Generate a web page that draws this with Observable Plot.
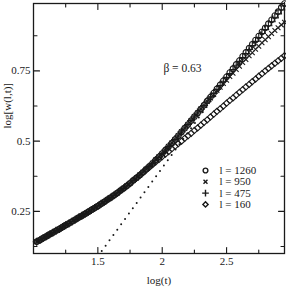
<!DOCTYPE html>
<html>
<head>
<meta charset="utf-8">
<script src="https://cdn.jsdelivr.net/npm/d3@7"></script>
<script src="https://cdn.jsdelivr.net/npm/@observablehq/plot@0.6"></script>
<style>
  html, body { margin: 0; padding: 0; background: #fff; }
  svg text { font-family: "Liberation Serif", "Times New Roman", "DejaVu Serif", serif !important; }
</style>
</head>
<body>
<div id="chart"></div>
<script>
const logT = [1.025,1.05,1.075,1.1,1.125,1.15,1.175,1.2,1.225,1.25,
  1.275,1.3,1.325,1.35,1.375,1.4,1.425,1.45,1.475,1.5,
  1.525,1.55,1.575,1.6,1.625,1.65,1.675,1.7,1.725,1.75,
  1.775,1.8,1.825,1.85,1.875,1.9,1.925,1.95,1.975,2.0,
  2.025,2.05,2.075,2.1,2.125,2.15,2.175,2.2,2.225,2.25,
  2.275,2.3,2.325,2.35,2.375,2.4,2.425,2.45,2.475,2.5,
  2.525,2.55,2.575,2.6,2.625,2.65,2.675,2.7,2.725,2.75,
  2.775,2.8,2.825,2.85,2.875,2.9,2.925,2.95];

const w1260 = [0.142,0.148,0.155,0.161,0.168,0.174,0.181,0.187,0.194,0.201,
  0.207,0.214,0.221,0.228,0.234,0.241,0.248,0.255,0.262,0.269,
  0.277,0.284,0.292,0.299,0.307,0.315,0.324,0.332,0.341,0.350,
  0.360,0.369,0.379,0.389,0.400,0.410,0.421,0.433,0.444,0.456,
  0.468,0.481,0.493,0.506,0.519,0.533,0.546,0.559,0.573,0.587,
  0.600,0.614,0.628,0.643,0.657,0.671,0.686,0.700,0.715,0.729,
  0.744,0.758,0.773,0.787,0.802,0.816,0.831,0.845,0.860,0.874,
  0.889,0.903,0.918,0.932,0.947,0.961,0.976,0.990];

const w950 = [0.142,0.148,0.155,0.161,0.168,0.174,0.181,0.187,0.194,0.201,
  0.207,0.214,0.221,0.228,0.234,0.241,0.248,0.255,0.262,0.269,
  0.277,0.284,0.292,0.299,0.307,0.315,0.324,0.332,0.341,0.350,
  0.360,0.369,0.379,0.389,0.400,0.410,0.421,0.433,0.444,0.456,
  0.468,0.481,0.493,0.506,0.519,0.533,0.546,0.559,0.573,0.587,
  0.600,0.614,0.627,0.641,0.654,0.666,0.680,0.692,0.705,0.717,
  0.730,0.742,0.755,0.767,0.780,0.791,0.804,0.815,0.827,0.838,
  0.850,0.861,0.872,0.883,0.894,0.904,0.914,0.923];

const w475 = [0.142,0.148,0.155,0.161,0.168,0.174,0.181,0.187,0.194,0.201,
  0.207,0.214,0.221,0.228,0.234,0.241,0.248,0.255,0.262,0.269,
  0.277,0.284,0.292,0.299,0.307,0.315,0.324,0.332,0.341,0.350,
  0.360,0.369,0.379,0.389,0.400,0.410,0.421,0.433,0.444,0.456,
  0.468,0.481,0.493,0.506,0.519,0.533,0.546,0.559,0.573,0.587,
  0.600,0.614,0.627,0.642,0.656,0.670,0.684,0.698,0.713,0.727,
  0.741,0.755,0.770,0.784,0.798,0.812,0.826,0.840,0.855,0.869,
  0.883,0.897,0.911,0.925,0.939,0.953,0.967,0.981];

const w160 = [0.142,0.148,0.155,0.161,0.168,0.174,0.181,0.187,0.194,0.201,
  0.207,0.214,0.221,0.228,0.234,0.241,0.248,0.255,0.262,0.269,
  0.277,0.284,0.292,0.299,0.307,0.315,0.324,0.332,0.341,0.350,
  0.360,0.369,0.378,0.388,0.397,0.407,0.416,0.426,0.435,0.445,
  0.454,0.463,0.473,0.482,0.491,0.500,0.510,0.519,0.528,0.538,
  0.547,0.557,0.567,0.576,0.586,0.596,0.606,0.615,0.625,0.635,
  0.645,0.654,0.664,0.674,0.683,0.693,0.702,0.712,0.721,0.731,
  0.740,0.750,0.759,0.768,0.777,0.786,0.795,0.804];

const seriesNames = ["l = 1260", "l = 950", "l = 475", "l = 160"];
const seriesValues = [w1260, w950, w475, w160];
const seriesSymbols = ["circle", "times", "plus", "diamond2"];

// fit line (slope beta = 0.63), two end points
const fitLogT = [1.5, 2.95];
const fitW = [0.09, 1.003];
const betaLabel = "β = 0.63";

const xDomain = [1, 2.95];
const yDomain = [0.1, 0.99];
const xMajor = [1.5, 2, 2.5];
const xMinor = [1.25, 1.75, 2.25, 2.75];
const yMajor = [0.25, 0.5, 0.75];
const yMinor = [0.125, 0.375, 0.625, 0.875];
const xTickLabels = ["1.5", "2", "2.5"];
const yTickLabels = ["0.25", "0.5", "0.75"];
const xLabel = "log(t)";
const yLabel = "log[w(l,t)]";

const rows = seriesNames.flatMap((name, s) =>
  logT.map((t, i) => ({series: name, t, w: seriesValues[s][i]})));
const fitRows = fitLogT.map((t, i) => ({t, w: fitW[i]}));

const ink = "#1a1a1a";
const serif = "Liberation Serif";
const tickShape = {draw(ctx, l) { ctx.moveTo(0, 0); ctx.lineTo(0, -l); }};
function ticks(values, side, len) {
  const common = {length: len, anchor: "start", shape: tickShape, stroke: ink, strokeWidth: 1.1};
  if (side === "bottom") return Plot.vector(values, {...common, x: d => d, y: yDomain[0], rotate: 0});
  if (side === "top") return Plot.vector(values, {...common, x: d => d, y: yDomain[1], rotate: 180});
  if (side === "left") return Plot.vector(values, {...common, y: d => d, x: xDomain[0], rotate: 90});
  return Plot.vector(values, {...common, y: d => d, x: xDomain[1], rotate: -90});
}

const sizes = {"circle": 2.8, "times": 2.3, "plus": 2.7, "diamond2": 2.8};

const seriesMarks = seriesNames.slice().reverse().map((name) => {
  const s = seriesNames.indexOf(name);
  return Plot.dot(rows.filter(d => d.series === name), {
    x: "t", y: "w", symbol: () => seriesSymbols[s], r: sizes[seriesSymbols[s]],
    stroke: ink, strokeWidth: 1.1, fill: "none"
  });
});

const legendMarks = seriesNames.flatMap((name, s) => [
  Plot.dot([name], {frameAnchor: "top-left", dx: 172, dy: 167 + s * 11.3,
    symbol: () => seriesSymbols[s], r: sizes[seriesSymbols[s]] * 0.85, stroke: ink, strokeWidth: 1.4, fill: "none"}),
  Plot.text([name], {frameAnchor: "top-left", dx: 186, dy: 167 + s * 11.3, text: d => d,
    textAnchor: "start", lineAnchor: "middle", fill: ink, fontSize: 11, fontFamily: serif})
]);

const chart = Plot.plot({
  width: 286,
  height: 287,
  marginLeft: 33,
  marginRight: 2,
  marginTop: 3,
  marginBottom: 34,
  style: {fontFamily: serif, fontSize: "11px", background: "#fff", color: ink},
  x: {domain: xDomain, axis: null},
  y: {domain: yDomain, axis: null},
  marks: [
    Plot.axisX(xMajor, {tickSize: 0, tickPadding: 4, tickFormat: (d, i) => xTickLabels[i], label: null, fontSize: 11, fontFamily: serif, fill: ink}),
    Plot.axisY(yMajor, {tickSize: 0, tickPadding: 3, tickFormat: (d, i) => yTickLabels[i], label: null, fontSize: 11, fontFamily: serif, fill: ink}),
    Plot.line(fitRows, {x: "t", y: "w", stroke: ink, strokeWidth: 2, strokeDasharray: "0,6.6", strokeLinecap: "round", clip: true}),
    ...seriesMarks,
    Plot.frame({stroke: ink, strokeWidth: 1.3}),
    ticks(xMajor, "bottom", 6), ticks(xMinor, "bottom", 3.5),
    ticks(xMajor, "top", 6), ticks(xMinor, "top", 3.5),
    ticks(yMajor, "left", 6), ticks(yMinor, "left", 3.5),
    ticks(yMajor, "right", 6), ticks(yMinor, "right", 3.5),
    Plot.text([betaLabel], {frameAnchor: "top-left", dx: 149, dy: 65, text: d => d, textAnchor: "middle", lineAnchor: "middle", fontSize: 11.5, fontFamily: serif, fill: ink}),
    ...legendMarks,
    Plot.text([xLabel], {frameAnchor: "bottom", dy: 27, text: d => d, lineAnchor: "middle", fontSize: 11, fontFamily: serif, fill: ink}),
    Plot.text([yLabel], {frameAnchor: "left", dx: -26, text: d => d, rotate: -90, lineAnchor: "middle", fontSize: 11, fontFamily: serif, fill: ink})
  ]
});
document.getElementById("chart").appendChild(chart);
</script>
</body>
</html>
